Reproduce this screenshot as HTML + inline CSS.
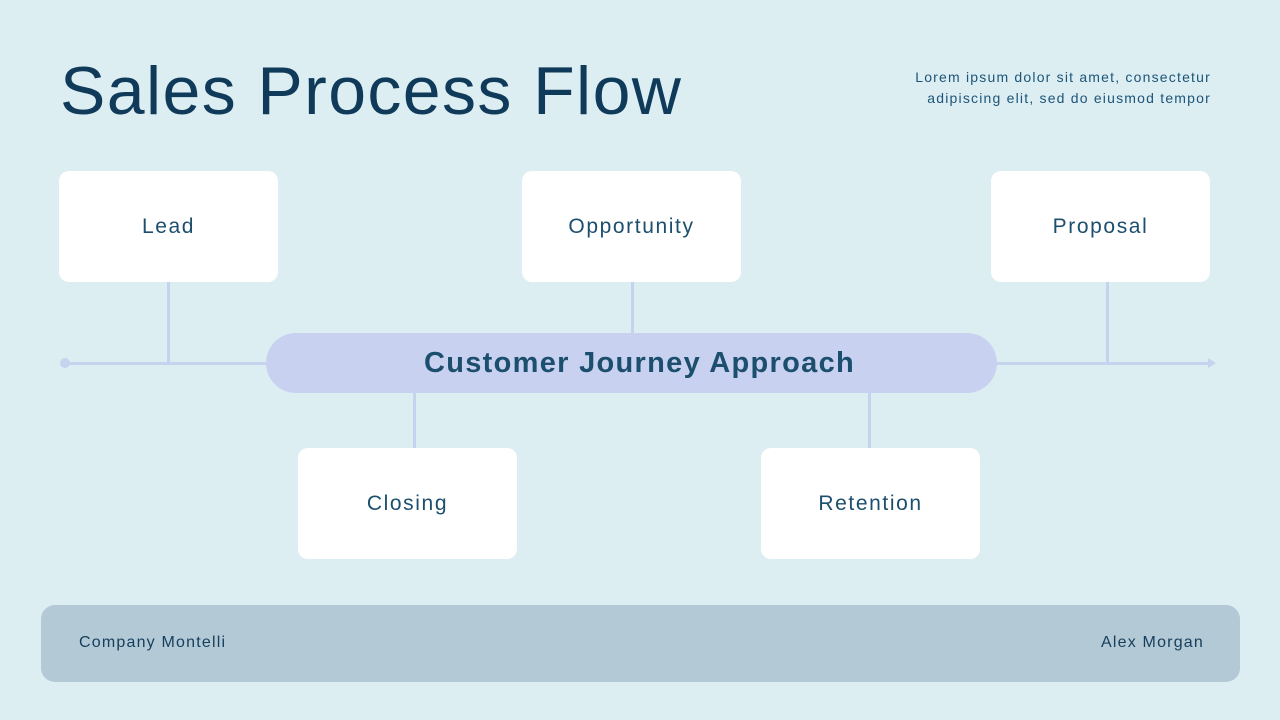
<!DOCTYPE html>
<html><head><meta charset="utf-8"><style>
*{margin:0;padding:0;box-sizing:border-box}
body{width:1280px;height:720px;background:#ddeef2;font-family:"Liberation Sans",sans-serif;position:relative;overflow:hidden}
.t{position:absolute;left:60px;top:52px;font-size:68px;color:#0f3a5a;letter-spacing:1.4px}
.s{position:absolute;right:69px;top:67px;text-align:right;font-size:14px;line-height:21px;color:#1c5578;letter-spacing:1.2px}
.b{position:absolute;width:219px;height:111px;background:#fff;border-radius:10px;display:flex;align-items:center;justify-content:center;font-size:21px;color:#1c4e6e;letter-spacing:1.6px}
.l{position:absolute;background:#c6d3ee}
.pill{position:absolute;left:266px;top:333px;width:731px;height:60px;border-radius:30px;background:#c8d1ef;display:flex;align-items:center;justify-content:center;padding-left:16px;font-size:29px;font-weight:bold;color:#1c4e6e;letter-spacing:1.3px}
.f{position:absolute;left:41px;top:605px;width:1199px;height:77px;border-radius:14px;background:#b3c9d6;font-size:16px;color:#143e5c;letter-spacing:1.2px}
</style></head><body>
<div class="t">Sales Process Flow</div>
<div class="s">Lorem ipsum dolor sit amet, consectetur<br>adipiscing elit, sed do eiusmod tempor</div>
<div class="l" style="left:65px;top:362px;width:1148px;height:3px"></div>
<div class="l" style="left:60px;top:358px;width:10px;height:10px;border-radius:5px"></div>
<svg style="position:absolute;left:1208px;top:358px" width="10" height="10"><polygon points="0,0 8,5 0,10" fill="#c6d3ee"/></svg>
<div class="l" style="left:167px;top:282px;width:3px;height:82px"></div>
<div class="l" style="left:631px;top:282px;width:3px;height:52px"></div>
<div class="l" style="left:1106px;top:282px;width:3px;height:82px"></div>
<div class="l" style="left:413px;top:392px;width:3px;height:56px"></div>
<div class="l" style="left:868px;top:392px;width:3px;height:56px"></div>
<div class="b" style="left:59px;top:171px">Lead</div>
<div class="b" style="left:522px;top:171px">Opportunity</div>
<div class="b" style="left:991px;top:171px">Proposal</div>
<div class="b" style="left:298px;top:448px">Closing</div>
<div class="b" style="left:761px;top:448px">Retention</div>
<div class="pill">Customer Journey Approach</div>
<div class="f"><span style="position:absolute;left:38px;top:29px">Company Montelli</span><span style="position:absolute;right:36px;top:29px">Alex Morgan</span></div>
</body></html>
